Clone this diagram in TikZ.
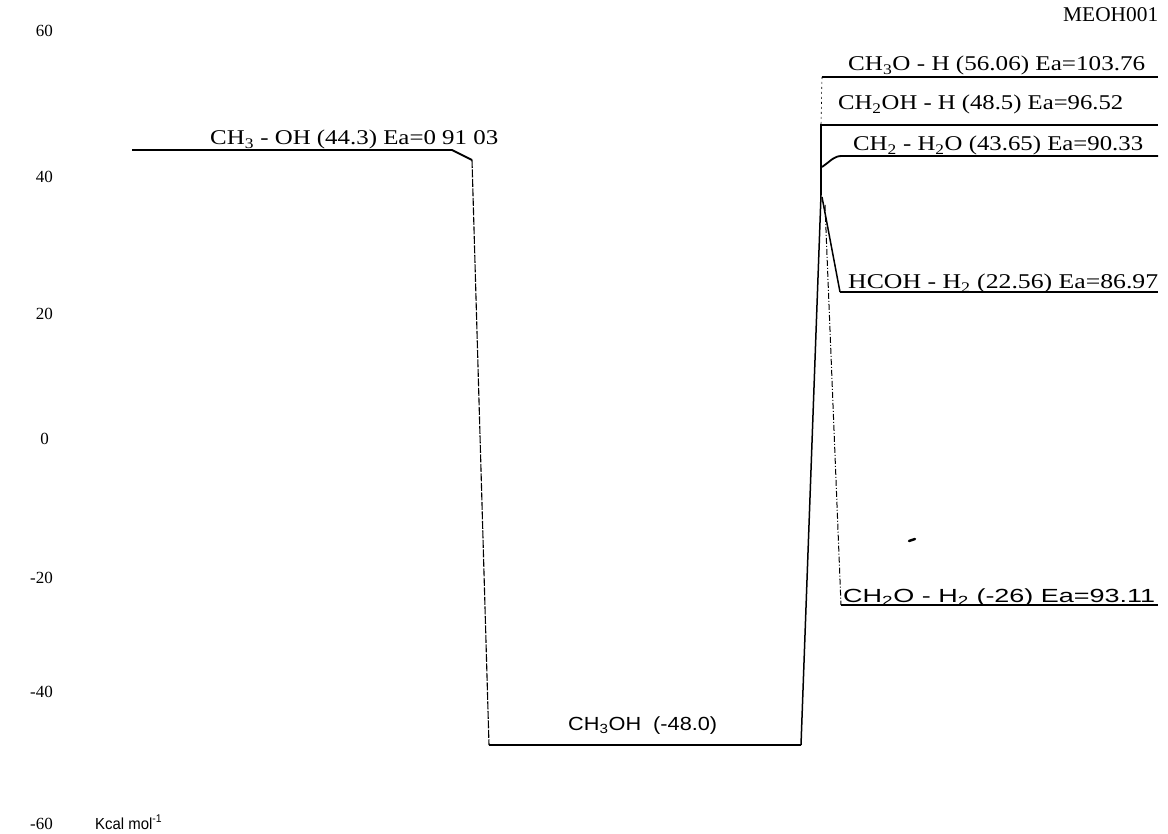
\documentclass[tikz,border=0pt]{standalone}
\usepackage{fontspec}
\setmainfont{Liberation Serif}
\setsansfont{Liberation Sans}
\newcommand\fitw[2]{\resizebox{#1pt}{\height}{#2}}
\newcommand\sbs[1]{\textsubscript{#1}}
\begin{document}
\begin{tikzpicture}[x=1pt,y=-1pt,
  lvl/.style={line width=1.8pt},
  conn/.style={line width=1.5pt},
  thinconn/.style={line width=1.1pt, dash pattern=on 8pt off 1.5pt},
  dashconn/.style={line width=1pt, dash pattern=on 6pt off 2pt on 1pt off 2pt},
  lbl/.style={anchor=base west, inner sep=0pt, font=\fontsize{21}{23}\selectfont},
  slbl/.style={anchor=base west, inner sep=0pt, font=\sffamily\fontsize{19}{21}\selectfont},
  ax/.style={anchor=base east, inner sep=0pt, font=\fontsize{17}{19}\selectfont}]
\useasboundingbox (0,0) rectangle (1168,834);
\fill[white] (0,0) rectangle (1168,834);

% coordinates
\coordinate (a1) at (132,150);
\coordinate (a2) at (452,150);
\coordinate (a3) at (472,160);
\coordinate (b1) at (489,745);
\coordinate (b2) at (801,745);
\coordinate (pk) at (821,195);
\coordinate (pt) at (821,125);
\coordinate (c2) at (1158,125);
\coordinate (d1) at (822,77);
\coordinate (d2) at (1158,77);
\coordinate (e0) at (822,167);
\coordinate (e1) at (842,156);
\coordinate (e2) at (1158,156);
\coordinate (f0) at (822,197);
\coordinate (f1) at (840,292);
\coordinate (f2) at (1158,292);
\coordinate (g0) at (825,205);
\coordinate (g1) at (841,605);
\coordinate (g2) at (1158,605);

% level lines and connectors
\draw[lvl] (a1) -- (a2) -- (a3);
\draw[thinconn] (a3) -- (b1);
\draw[lvl] (b1) -- (b2);
\draw[conn] (b2) -- (pk);
\draw[lvl] (pk) -- (pt) -- (c2);
\draw[lvl] (d1) -- (d2);
\draw[line width=0.6pt, dash pattern=on 2pt off 3pt] (d1) -- (pt);
\draw[lvl] (e0) .. controls (832,160) and (834,156) .. (e1) -- (e2);
\draw[conn] (f0) -- (f1);
\draw[lvl] (f1) -- (f2);
\draw[dashconn] (g0) -- (g1);
\draw[lvl] (g1) -- (g2);
\draw[line width=2.4pt, line cap=round] (909,541) -- (915,539);

% labels
\node[lbl] (tag) at (1063,22) {\fitw{95}{MEOH001}};
\node[lbl] (l1) at (848,71) {\fitw{297}{CH\sbs{3}O - H (56.06) Ea=103.76}};
\node[lbl] (l2) at (838,110) {\fitw{285}{CH\sbs{2}OH - H (48.5) Ea=96.52}};
\node[lbl] (l3) at (853,151) {\fitw{290}{CH\sbs{2} - H\sbs{2}O (43.65) Ea=90.33}};
\node[lbl] (l4) at (848,289) {\fitw{310}{HCOH - H\sbs{2} (22.56) Ea=86.97}};
\node[slbl] (l5) at (843,602) {\fitw{312}{CH\sbs{2}O - H\sbs{2} (-26) Ea=93.11}};
\node[lbl] (l6) at (210,145) {\fitw{288}{CH\sbs{3} - OH (44.3) Ea=0 91 03}};
\node[slbl] (l7) at (568,730) {\fitw{149}{CH\sbs{3}OH\ \ (-48.0)}};

% axis
\node[ax] (y60) at (53,37) {60};
\node[ax] (y40) at (53,183) {40};
\node[ax] (y20) at (53,320) {20};
\node[ax] (y0) at (49,444) {0};
\node[ax] (ym20) at (53,583) {-20};
\node[ax] (ym40) at (53,697) {-40};
\node[ax] (ym60) at (53,829) {-60};
\node[slbl, font=\sffamily\fontsize{16}{18}\selectfont] (unit) at (95,829) {\fitw{67}{Kcal mol\textsuperscript{-1}}};
\end{tikzpicture}
\end{document}
